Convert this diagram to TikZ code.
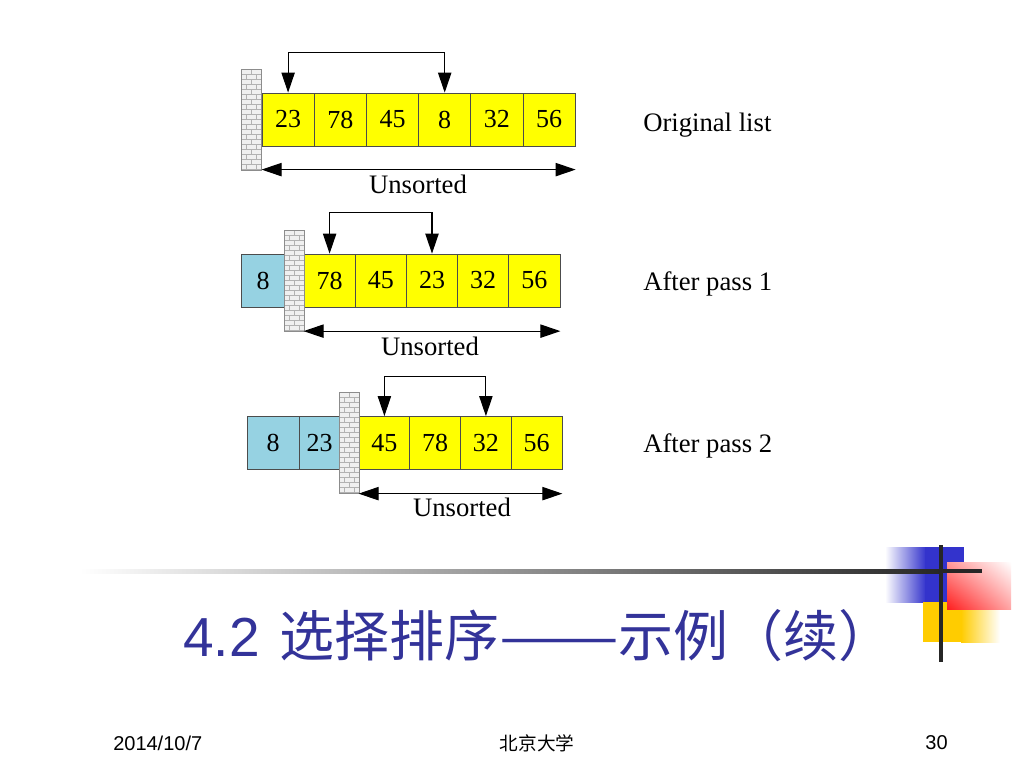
\documentclass[tikz,border=0pt]{standalone}
\usepackage{fontspec}
\setmainfont{Liberation Serif}
\newfontfamily\cjk{Noto Sans CJK SC}
\newfontfamily\slidesans{Liberation Sans}
\usetikzlibrary{arrows.meta,shadings}
\definecolor{cellyellow}{RGB}{255,255,0}
\definecolor{cellblue}{RGB}{150,210,226}
\definecolor{titleblue}{RGB}{51,51,153}
\definecolor{decoblue}{RGB}{51,51,204}
\definecolor{decoyellow}{RGB}{255,204,0}
\definecolor{decored}{RGB}{255,30,30}
\begin{document}
\begin{tikzpicture}[x=0.75pt,y=-0.75pt,
  cell/.style={draw=black!70,line width=0.6pt,minimum height=39.75pt,inner sep=0pt,font=\fontsize{19.5}{20}\selectfont},
  unsortedcell/.style={cell,fill=cellyellow,minimum width=#1},
  sortedcell/.style={cell,fill=cellblue,minimum width=#1},
  wall/.style={draw=black!45,fill=black!6,line width=0.5pt,minimum width=15pt,minimum height=75.75pt,inner sep=0pt,
    path picture={
      \foreach \k in {0,...,20}{
        \pgfmathsetmacro{\brickoff}{mod(\k,2)*3.75}
        \draw[black!30,line width=0.3pt] ([yshift=-\k*3.75pt]path picture bounding box.north west) -- ++(20pt,0pt);
        \foreach \j in {0,1,2}
          \draw[black!30,line width=0.3pt] ([xshift=\brickoff pt+\j*7.5pt,yshift=-\k*3.75pt]path picture bounding box.north west) -- ++(0pt,-3.75pt);
      }}},
  swaparrow/.style={line width=0.8pt,{Triangle[length=15pt,width=10pt]}-{Triangle[length=15pt,width=10pt]}},
  rangearrow/.style={line width=0.8pt,{Triangle[length=15pt,width=10pt]}-{Triangle[length=15pt,width=10pt]}},
  rowtext/.style={font=\fontsize{20}{24}\selectfont,inner sep=0pt}
]
\useasboundingbox (0,0) rectangle (1024,768);
\fill[white] (0,0) rectangle (1024,768);
%% original list
\node (a1) at (288.1,119.5) [unsortedcell=39.15pt] {23};
\node (a2) at (340.3,119.5) [unsortedcell=39.15pt] {78};
\node (a3) at (392.5,119.5) [unsortedcell=39.15pt] {45};
\node (a4) at (444.7,119.5) [unsortedcell=39.15pt] {8};
\node (a5) at (496.9,119.5) [unsortedcell=39.15pt] {32};
\node (a6) at (549.1,119.5) [unsortedcell=39.15pt] {56};
\node (w1) at (251.5,119.5) [wall] {};
\draw [swaparrow] (a1.north) -- ++(0,-40) -| (a4.north);
\draw [rangearrow] ([yshift=-17.4pt]a1.south west) -- ([yshift=-17.4pt]a6.south east);
\node (u1) at (418,184) [rowtext] {Unsorted};
\node (t1) at (643,131) [rowtext,anchor=base west] {Original list};
%% after pass 1
\node (b1) at (263,280.5) [sortedcell=33pt] {8};
\node (c1) at (329.6,280.5) [unsortedcell=38.4pt] {78};
\node (c2) at (380.8,280.5) [unsortedcell=38.4pt] {45};
\node (c3) at (432.0,280.5) [unsortedcell=38.4pt] {23};
\node (c4) at (483.2,280.5) [unsortedcell=38.4pt] {32};
\node (c5) at (534.4,280.5) [unsortedcell=38.4pt] {56};
\node (w2) at (294,280.5) [wall] {};
\draw [swaparrow] (c1.north) -- ++(0,-41) -| (c3.north);
\draw [rangearrow] ([yshift=-17.8pt]c1.south west) -- ([yshift=-17.8pt]c5.south east);
\node (u2) at (430,346) [rowtext] {Unsorted};
\node (t2) at (643,290) [rowtext,anchor=base west] {After pass 1};
%% after pass 2
\node (d1) at (273,443) [sortedcell=39pt] {8};
\node (d2) at (319.5,443) [sortedcell=30.75pt] {23};
\node (e1) at (384.4,443) [unsortedcell=38.06pt] {45};
\node (e2) at (435.1,443) [unsortedcell=38.06pt] {78};
\node (e3) at (485.9,443) [unsortedcell=38.06pt] {32};
\node (e4) at (536.6,443) [unsortedcell=38.06pt] {56};
\node (w3) at (349.5,442.5) [wall] {};
\draw [swaparrow] (e1.north) -- ++(0,-40) -| (e3.north);
\draw [rangearrow] ([yshift=-17.8pt]e1.south west) -- ([yshift=-17.8pt]e4.south east);
\node (u3) at (462,507) [rowtext] {Unsorted};
\node (t3) at (643,452) [rowtext,anchor=base west] {After pass 2};
%% slide decoration
\shade[left color=white,right color=decoblue] (885,547) rectangle (926,602);
\fill[decoblue] (925,547) rectangle (964,602);
\fill[decoyellow] (923,602) rectangle (962,642);
\shade[left color=decoyellow,right color=white] (961,602) rectangle (1000,642);
\shade[lower left=decored,upper right=white,upper left=decored!45,lower right=decored!40] (947,562) rectangle (1011,609);
\shade[left color=white,middle color=black!35,right color=black!85] (80,569) rectangle (942,573);
\fill[black!85] (940,569) rectangle (982,573);
\fill[black!85] (939,545) rectangle (943,662);
%% title and footer
\node (title) at (183,656) [anchor=base west,inner sep=0pt,text=titleblue,font=\fontsize{41.25}{50}\selectfont]
  {\slidesans 4.2 \hspace{3pt}\cjk 选择排序\scalebox{1.3}[1]{——}示例（续）};
\node (date) at (113,743) [anchor=west,inner sep=0pt,font=\slidesans\fontsize{15}{18}\selectfont] {2014/10/7};
\node (school) at (537,743) [inner sep=0pt,font=\cjk\fontsize{14}{17}\selectfont] {北京大学};
\node (page) at (936.5,743) [inner sep=0pt,font=\slidesans\fontsize{15}{18}\selectfont] {30};
\end{tikzpicture}
\end{document}
